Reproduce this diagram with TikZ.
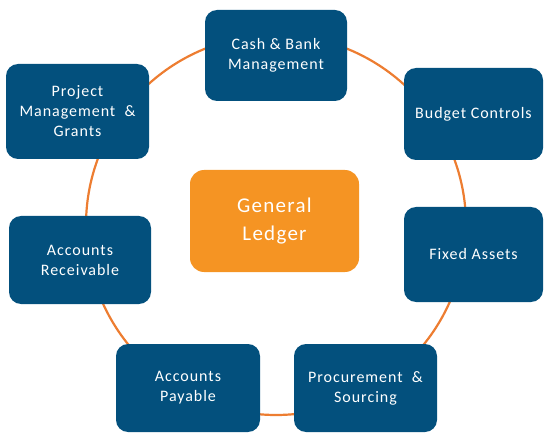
\documentclass[tikz,border=0pt]{standalone}
\usepackage{fontspec}
\setmainfont{Carlito}[LetterSpace=6]
\definecolor{boxblue}{HTML}{03507D}
\definecolor{boxorange}{HTML}{F59423}
\definecolor{ringorange}{HTML}{ED7D31}
\tikzset{
  modbox/.style={rectangle, rounded corners=12pt, fill=boxblue, text=white,
    align=center, inner sep=0pt, font=\fontsize{16}{20}\selectfont},
  corebox/.style={rectangle, rounded corners=14pt, fill=boxorange, text=white,
    align=center, inner sep=0pt, font=\fontsize{21}{28}\selectfont},
  ring/.style={draw=ringorange, line width=2.2pt}
}
\begin{document}
\begin{tikzpicture}[x=1pt,y=-1pt]
\useasboundingbox (0,0) rectangle (544,433);
\coordinate (hub) at (276,225);
\draw[ring] (hub) circle[radius=190pt];
\node[modbox, minimum width=142pt, minimum height=91pt] (cash) at (276,55.5) {Cash \& Bank\\Management};
\node[modbox, minimum width=143pt, minimum height=95pt] (proj) at (77.5,111.5) {Project\\Management\ \ \&\\Grants};
\node[modbox, minimum width=139pt, minimum height=92pt] (budget) at (473.5,114) {Budget Controls};
\node[corebox, minimum width=169pt, minimum height=102pt] (gl) at (274.5,221) {General\\Ledger};
\node[modbox, minimum width=142pt, minimum height=88pt] (ar) at (80,260) {Accounts\\Receivable};
\node[modbox, minimum width=139pt, minimum height=95pt] (fixed) at (473.5,254.5) {Fixed Assets};
\node[modbox, minimum width=144pt, minimum height=88pt] (ap) at (188,388) {Accounts\\Payable};
\node[modbox, minimum width=143pt, minimum height=88pt] (proc) at (365.5,388) {Procurement\ \ \&\\Sourcing};
\end{tikzpicture}
\end{document}
